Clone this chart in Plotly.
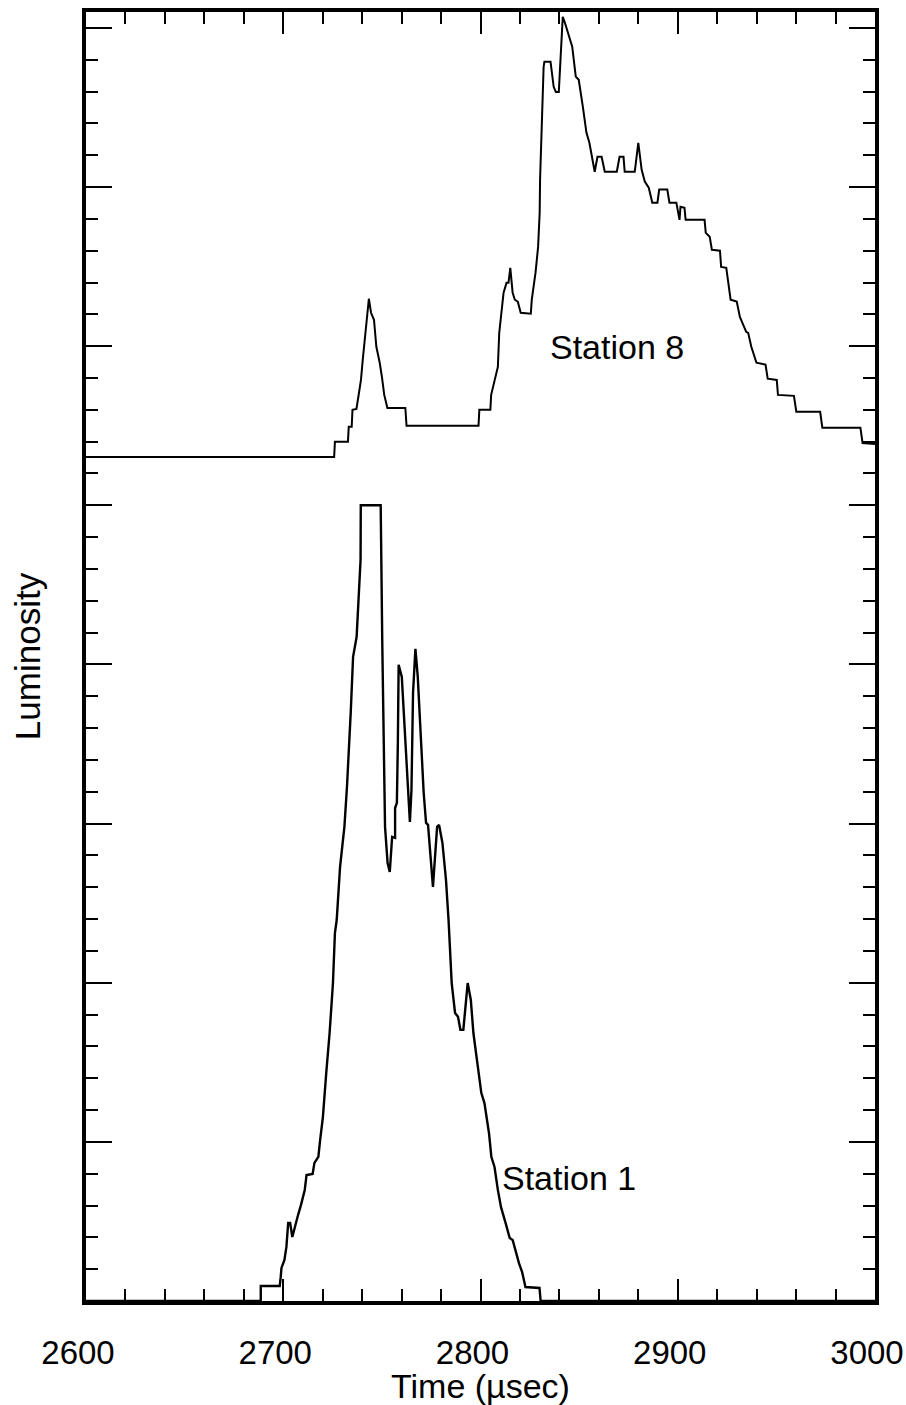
import plotly.graph_objects as go

# Station 8 trace (time in microseconds, luminosity in arbitrary units)
s8_time = [2600, 2725.8, 2726.2, 2732.8, 2733.2, 2734.7, 2735.1, 2737.1, 2738.0, 2739.4,
           2740.3, 2741.6, 2742.5, 2743.4, 2744.5, 2746.0, 2747.2, 2748.9, 2750.0, 2751.2,
           2752.8, 2761.9, 2762.5, 2799.0, 2799.4, 2805.0, 2805.4, 2807.3, 2808.8, 2809.5,
           2810.4, 2811.7, 2813.2, 2814.2, 2815.1, 2816.3, 2817.4, 2818.9, 2820.4, 2825.5,
           2826.0, 2827.9, 2829.2, 2830.0, 2830.2, 2830.9, 2831.7, 2832.0, 2832.4, 2835.5,
           2837.1, 2838.2, 2839.7, 2840.9, 2841.7, 2842.8, 2844.3, 2846.5, 2848.3, 2849.8,
           2851.9, 2853.7, 2855.2, 2857.9, 2859.3, 2861.4, 2863.0, 2869.1, 2870.5, 2872.5,
           2873.1, 2878.2, 2880.0, 2881.7, 2883.3, 2885.3, 2887.1, 2889.7, 2890.6, 2894.7,
           2895.8, 2899.3, 2900.9, 2901.4, 2903.4, 2904.0, 2913.6, 2914.2, 2916.2, 2917.3,
           2921.4, 2922.0, 2924.6, 2925.7, 2926.8, 2929.9, 2931.5, 2934.7, 2935.7, 2937.3,
           2939.9, 2944.5, 2945.6, 2950.2, 2950.8, 2958.9, 2960.1, 2972.2, 2973.3, 2992.6,
           2993.7, 3000]
s8_lum = [26.52, 26.52, 27.00, 27.00, 27.47, 27.47, 28.00, 28.03, 28.38, 28.94,
          29.57, 30.42, 30.92, 31.49, 31.05, 30.83, 29.98, 29.48, 29.04, 28.47,
          28.06, 28.06, 27.50, 27.50, 28.00, 28.00, 28.47, 28.94, 29.35, 30.42,
          30.92, 31.68, 31.99, 31.99, 32.46, 31.68, 31.46, 31.40, 31.05, 31.02,
          31.46, 32.31, 33.12, 34.19, 35.23, 36.71, 37.74, 38.78, 38.94, 38.94,
          38.15, 37.99, 37.99, 39.31, 40.35, 40.16, 39.85, 39.41, 38.47, 38.37,
          37.52, 36.71, 36.39, 35.48, 35.95, 35.95, 35.48, 35.48, 35.95, 35.95,
          35.48, 35.48, 36.39, 35.54, 35.17, 34.98, 34.51, 34.51, 34.92, 34.92,
          34.51, 34.51, 33.97, 34.38, 34.35, 33.97, 33.97, 33.56, 33.44, 33.03,
          33.00, 32.49, 32.46, 31.99, 31.46, 31.40, 30.92, 30.45, 30.42, 29.98,
          29.48, 29.42, 28.98, 28.94, 28.47, 28.44, 27.94, 27.94, 27.44, 27.44,
          26.96, 26.93]

# Station 1 trace
s1_time = [2600, 2688.6, 2688.6, 2698.2, 2698.7, 2699.1, 2700.6, 2701.6, 2702.5, 2703.5,
           2704.6, 2706.1, 2707.5, 2709.0, 2710.9, 2711.8, 2714.9, 2715.8, 2717.8, 2718.7,
           2720.1, 2721.8, 2723.5, 2725.2, 2726.2, 2727.1, 2728.8, 2731.0, 2732.3, 2734.2,
           2735.4, 2737.2, 2738.0, 2739.2, 2739.3, 2749.4, 2750.2, 2751.6, 2752.9, 2754.0,
           2755.2, 2756.7, 2756.7, 2757.6, 2758.1, 2758.5, 2760.1, 2762.3, 2764.2, 2765.0,
           2765.8, 2767.0, 2768.2, 2771.2, 2772.4, 2773.4, 2775.9, 2778.0, 2779.0, 2780.7,
           2782.5, 2783.8, 2785.4, 2787.1, 2788.6, 2789.8, 2791.3, 2793.5, 2795.1, 2796.4,
           2798.7, 2800.4, 2802.0, 2804.3, 2805.5, 2807.1, 2808.8, 2810.4, 2812.6, 2814.8,
           2816.3, 2817.9, 2819.5, 2821.1, 2822.8, 2829.9, 2830.5, 3000]
s1_lum = [0, 0, 0.47, 0.47, 0.75, 1.04, 1.29, 1.70, 2.45, 2.45,
          2.01, 2.39, 2.70, 3.02, 3.49, 3.96, 3.99, 4.34, 4.53, 5.06,
          5.78, 7.17, 8.42, 9.99, 11.57, 11.97, 13.64, 14.90, 16.15, 18.48,
          20.24, 20.87, 21.81, 23.29, 25.0, 25.0, 20.68, 14.90, 13.76, 13.48,
          14.58, 14.55, 15.49, 15.65, 17.54, 19.99, 19.61, 17.00, 15.05, 16.06,
          19.11, 20.49, 19.61, 15.96, 15.02, 14.96, 13.01, 14.90, 14.96, 14.39,
          13.23, 11.97, 9.99, 9.05, 8.93, 8.52, 8.52, 9.99, 9.46, 8.42,
          7.35, 6.54, 6.22, 5.28, 4.53, 4.21, 3.49, 2.95, 2.48, 1.98,
          1.92, 1.51, 1.19, 0.91, 0.44, 0.41, 0, 0]

x_ticks = [2600, 2700, 2800, 2900, 3000]
labels = [("Station 8", 2834, 29.98), ("Station 1", 2810, 3.87)]

FONT = "Liberation Sans, Arial, Helvetica, sans-serif"

fig = go.Figure()
fig.add_trace(go.Scatter(x=s8_time, y=s8_lum, mode="lines",
                         line=dict(color="black", width=2), showlegend=False))
fig.add_trace(go.Scatter(x=s1_time, y=s1_lum, mode="lines",
                         line=dict(color="black", width=2.4), showlegend=False))

for text, tx, ty in labels:
    fig.add_annotation(x=tx, y=ty, text=text, showarrow=False, xanchor="left",
                       yanchor="middle", font=dict(family=FONT, size=34, color="black"))

fig.update_layout(
    width=906, height=1405,
    margin=dict(l=86, r=31, t=12, b=104, autoexpand=False),
    paper_bgcolor="white", plot_bgcolor="white",
    font=dict(family=FONT, size=33, color="black"),
)
fig.update_xaxes(
    range=[2599.999, 3000.001], tickvals=x_ticks, ticktext=[str(v) for v in x_ticks],
    automargin=False,
    showgrid=False, zeroline=False,
    showline=True, linecolor="black", linewidth=4, mirror="ticks",
    ticks="inside", ticklen=22, tickwidth=2, tickcolor="black",
    minor=dict(dtick=20, tick0=2600, ticks="inside", ticklen=12, tickwidth=2, tickcolor="black", showgrid=False),
    tickfont=dict(family=FONT, size=33, color="black"),
    ticklabelstandoff=19, ticklabelshift=-8, ticklabeloverflow="allow",
    title=dict(text="Time (µsec)", font=dict(family=FONT, size=34, color="black"), standoff=2),
)
fig.update_yaxes(
    range=[0, 40.5], dtick=5, tick0=0, showticklabels=False,
    automargin=False,
    showgrid=False, zeroline=False,
    showline=True, linecolor="black", linewidth=4, mirror="ticks",
    ticks="inside", ticklen=26, tickwidth=2, tickcolor="black",
    minor=dict(dtick=1, tick0=0, ticks="inside", ticklen=12, tickwidth=2, tickcolor="black", showgrid=False),
    title=dict(text="Luminosity", font=dict(family=FONT, size=35, color="black"), standoff=32),
)

fig.write_html("out.html")
